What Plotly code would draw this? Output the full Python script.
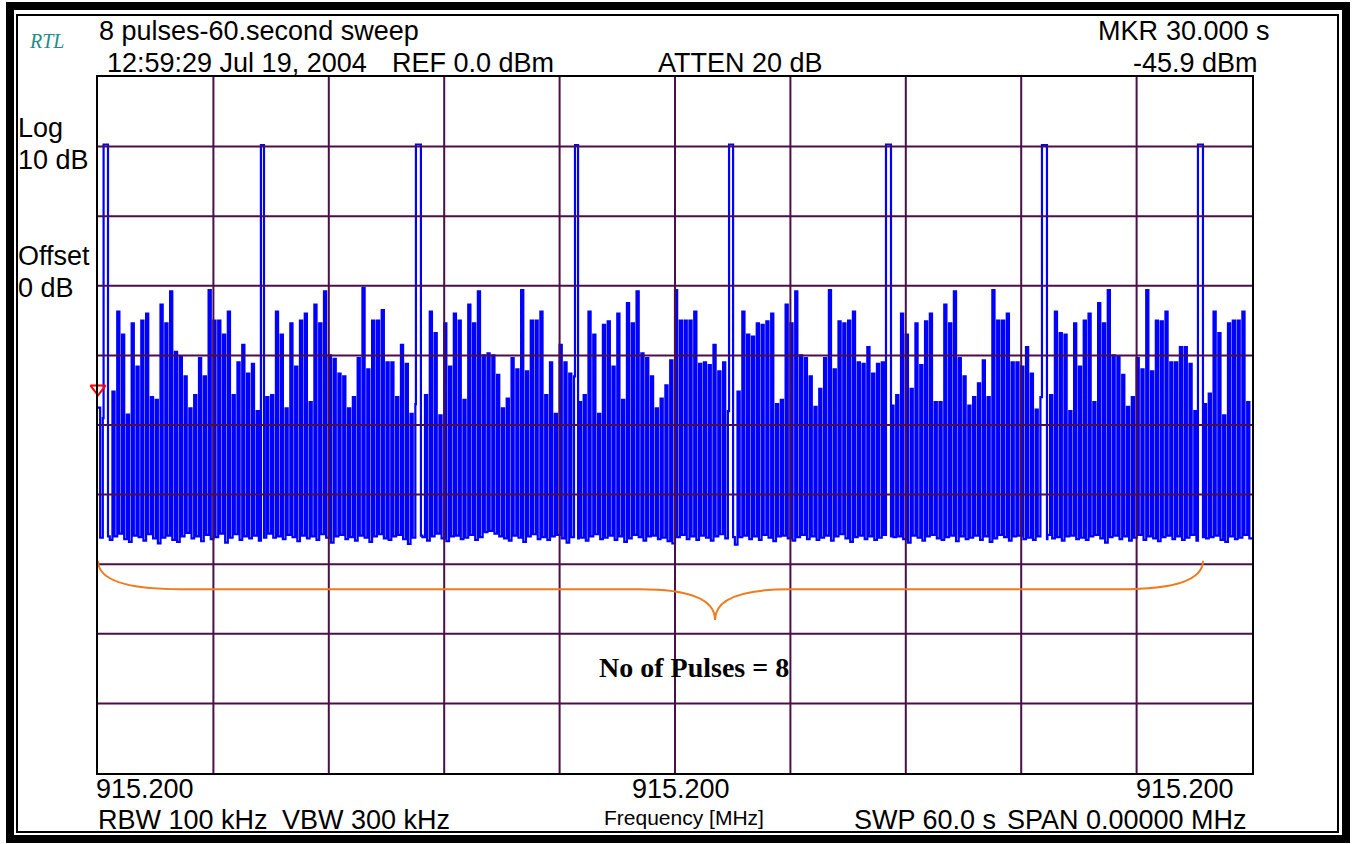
import plotly.graph_objects as go

# ---------------- data ----------------
sweep_s = 60.0
slot_s = 0.25  # one reading per 0.25 s of the 60 s zero-span sweep

top_dbm = [
    -47.5, -49.0, -46.5, -45.2, -33.7, -37.0, -48.5, -35.4, -41.6, -35.0,
    -34.0, -46.0, -46.4, -32.7, -35.4, -30.8, -39.5, -40.2, -43.0, -47.6,
    -45.7, -40.4, -43.0, -30.6, -35.0, -35.0, -37.0, -33.7, -45.7, -41.0,
    -38.5, -42.6, -41.2, -48.0, -46.7, -46.0, -45.7, -33.7, -37.0, -47.6,
    -35.4, -41.6, -35.0, -34.0, -46.7, -32.7, -35.4, -30.8, -40.0, -40.5,
    -42.6, -43.0, -47.6, -46.0, -40.4, -30.3, -42.0, -35.0, -35.0, -33.5,
    -41.0, -41.0, -46.0, -38.5, -41.2, -48.4, -47.0, -46.4, -45.7, -33.7,
    -36.8, -48.6, -35.4, -41.6, -34.0, -35.0, -46.4, -32.7, -35.4, -30.8,
    -40.0, -39.7, -40.0, -42.8, -47.6, -46.2, -40.4, -42.0, -30.6, -42.3,
    -35.0, -35.0, -33.7, -45.7, -41.0, -48.4, -38.5, -41.0, -42.6, -43.0,
    -46.7, -45.7, -33.7, -37.0, -48.4, -35.6, -35.1, -41.6, -34.0, -46.4,
    -32.5, -35.4, -30.8, -39.7, -40.4, -43.0, -47.6, -46.2, -44.3, -40.7,
    -30.6, -35.0, -35.0, -35.0, -33.7, -41.2, -41.0, -41.4, -38.5, -42.3,
    -41.0, -48.0, -47.0, -45.2, -33.7, -37.0, -37.3, -35.4, -35.6, -35.1,
    -34.0, -47.0, -46.4, -32.7, -35.4, -30.8, -40.0, -40.4, -43.0, -47.4,
    -44.8, -40.4, -30.6, -42.0, -35.1, -35.4, -35.0, -33.7, -41.0, -41.2,
    -38.8, -42.6, -41.2, -41.0, -47.0, -47.2, -45.7, -34.0, -37.0, -44.8,
    -35.4, -41.4, -35.1, -34.0, -46.7, -46.7, -32.7, -35.4, -30.8, -40.4,
    -43.0, -47.2, -46.0, -44.0, -40.7, -46.0, -30.6, -35.0, -35.0, -34.0,
    -41.0, -41.0, -41.6, -38.8, -42.6, -47.8, -46.0, -47.2, -45.7, -33.7,
    -36.8, -37.0, -48.0, -35.4, -41.6, -35.0, -34.0, -46.7, -32.5, -35.4,
    -30.6, -40.0, -40.2, -42.8, -47.4, -46.0, -40.4, -42.0, -30.6, -42.3,
    -35.0, -35.1, -33.7, -41.0, -41.0, -38.8, -38.8, -41.2, -48.0, -47.0,
    -47.0, -45.5, -33.7, -36.8, -48.6, -35.4, -35.0, -35.0, -33.7, -46.7,
]

floor_dbm = [
    -66.2, -65.8, -66.5, -66.0, -65.6, -66.4, -66.8, -65.9, -66.1, -66.6,
    -65.7, -66.3, -67.0, -66.2, -65.9, -66.5, -66.8, -66.0, -65.5, -66.3,
    -66.0, -66.7, -65.8, -66.4, -66.1, -65.6, -66.9, -66.2, -65.7, -66.5,
    -66.0, -66.3, -65.9, -66.6, -66.8, -65.6, -66.2, -66.0, -66.4, -65.8,
    -66.1, -66.7, -65.9, -66.3, -66.0, -66.5, -65.7, -66.2, -66.9, -66.0,
    -65.8, -66.4, -66.1, -66.6, -65.9, -66.2, -66.8, -66.0, -65.7, -66.3,
    -66.5, -66.0, -65.8, -66.4, -67.1, -66.2, -65.9, -66.1, -66.6, -66.0,
    -65.6, -66.3, -66.7, -66.0, -65.9, -66.4, -66.2, -65.8, -66.5, -66.1,
    -65.4, -65.2, -65.6, -66.0, -66.3, -66.6, -65.9, -66.2, -66.8, -66.0,
    -65.7, -66.4, -66.1, -66.5, -66.0, -65.8, -66.3, -66.9, -66.1, -65.9,
    -66.2, -66.6, -66.0, -65.7, -66.4, -66.2, -65.9, -66.5, -66.0, -66.8,
    -66.3, -65.8, -66.1, -66.6, -66.0, -65.9, -66.4, -66.2, -66.7, -67.0,
    -66.1, -65.8, -66.4, -66.0, -66.5, -65.9, -66.2, -66.6, -66.0, -65.7,
    -66.3, -66.8, -67.2, -66.1, -65.9, -66.4, -66.0, -66.5, -65.8, -66.2,
    -66.7, -66.0, -65.9, -66.3, -66.6, -66.1, -65.8, -66.4, -66.0, -66.5,
    -66.2, -65.9, -66.6, -66.0, -65.7, -66.3, -66.8, -66.1, -65.9, -66.4,
    -66.0, -66.5, -66.2, -65.8, -66.6, -66.1, -66.0, -66.4, -66.9, -65.9,
    -66.2, -66.6, -66.0, -65.8, -66.3, -66.5, -66.1, -65.9, -66.7, -66.0,
    -66.4, -66.2, -65.9, -66.5, -66.0, -66.8, -66.3, -65.8, -66.1, -66.6,
    -66.0, -65.9, -66.4, -66.2, -66.5, -66.0, -66.7, -65.8, -66.3, -66.1,
    -66.6, -66.0, -65.9, -66.4, -66.2, -66.5, -66.0, -65.8, -66.3, -66.9,
    -66.1, -65.9, -66.4, -66.0, -66.6, -66.2, -65.8, -66.5, -66.0, -66.3,
    -66.7, -66.1, -65.9, -66.4, -66.0, -66.5, -66.2, -65.8, -66.6, -66.0,
    -66.3, -66.1, -65.9, -66.5, -66.8, -66.0, -66.4, -66.2, -65.8, -66.3,
]

pulse_start_s = [0.29, 8.47, 16.53, 24.80, 32.81, 40.97, 49.08, 57.19]
pulse_width_s = [0.23, 0.16, 0.26, 0.16, 0.21, 0.26, 0.26, 0.26]
pulse_peak_dbm = [-9.7, -9.8, -9.7, -9.8, -9.7, -9.7, -9.8, -9.7]
pulse_floor_dbm = [-66.0, -66.2, -65.9, -66.3, -66.1, -66.0, -66.4, -66.1]

x_grid_s = [0, 6, 12, 18, 24, 30, 36, 42, 48, 54, 60]
y_grid_dbm = [-100, -90, -80, -70, -60, -50, -40, -30, -20, -10, 0]

marker_time_s = 0.0
marker_level_dbm = -44.8

brace_left_s = 0.0
brace_tip_s = 32.08
brace_right_s = 57.45
brace_end_dbm = -69.5
brace_mid_dbm = -73.6
brace_tip_dbm = -78.0

# ---------------- build trace ----------------
pts = []
for i, (top, fl) in enumerate(zip(top_dbm, floor_dbm)):
    t0 = i * slot_s
    pts.append((t0, top))
    pts.append((t0 + 0.45 * slot_s, fl))


def in_pulse(t):
    for ps, pw in zip(pulse_start_s, pulse_width_s):
        if ps <= t < ps + pw:
            return True
    return False


pts = [p for p in pts if not in_pulse(p[0])]
for ps, pw, pk, pf in zip(pulse_start_s, pulse_width_s, pulse_peak_dbm, pulse_floor_dbm):
    pts.append((ps, pk))
    pts.append((ps + pw, pf))
pts.sort(key=lambda p: p[0])
pts.append((sweep_s, pts[-1][1]))
tx = [p[0] for p in pts]
ty = [p[1] for p in pts]

# ---------------- figure ----------------
W, H = 1356, 844
L, R, T, B = 98, 1252, 77, 773


def px(x):
    return (x - L) / (R - L)


def py(y):
    return (B - y) / (B - T)


fig = go.Figure()
fig.add_trace(go.Scatter(
    x=tx, y=ty, mode="lines",
    line=dict(color="#0000ff", width=2.2, shape="hv"),
    hoverinfo="skip", showlegend=False,
))
fig.add_trace(go.Scatter(
    x=[marker_time_s], y=[marker_level_dbm], mode="markers",
    marker=dict(symbol="triangle-down-open", size=13, color="#ff0000",
                line=dict(color="#ff0000", width=2)),
    cliponaxis=False, showlegend=False, hoverinfo="skip",
))

shapes = []
grid_col = "#4b0f48"
for gx in x_grid_s[1:-1]:
    shapes.append(dict(type="line", xref="x", yref="paper", x0=gx, x1=gx, y0=0, y1=1,
                       line=dict(color=grid_col, width=2), layer="above"))
for gy in y_grid_dbm[1:-1]:
    shapes.append(dict(type="line", xref="paper", yref="y", x0=0, x1=1, y0=gy, y1=gy,
                       line=dict(color=grid_col, width=2), layer="above"))

# brace
bl, bt, br = brace_left_s, brace_tip_s, brace_right_s
e, m, tp = brace_end_dbm, brace_mid_dbm, brace_tip_dbm
path = (f"M {bl},{e} Q {bl},{m} {bl+4.3},{m} L {bt-3.9},{m} Q {bt},{m} {bt},{tp} "
        f"Q {bt},{m} {bt+3.9},{m} L {br-4.3},{m} Q {br},{m} {br},{e}")
shapes.append(dict(type="path", xref="x", yref="y", path=path,
                   line=dict(color="#f07a1e", width=2), layer="above"))

# frame
shapes.append(dict(type="rect", xref="paper", yref="paper",
                   x0=px(10), x1=px(1346), y0=py(6), y1=py(839),
                   line=dict(color="black", width=8), layer="above"))
shapes.append(dict(type="rect", xref="paper", yref="paper",
                   x0=px(17), x1=px(1338), y0=py(15), y1=py(832),
                   line=dict(color="black", width=2), layer="above"))

SANS = "Liberation Sans, Arial, sans-serif"
ann = []


def text(t, x, y, anchor="left", size=27, family=SANS, color="black", **kw):
    ann.append(dict(text=t, xref="paper", yref="paper", x=px(x), y=py(y),
                    xanchor=anchor, yanchor="middle", showarrow=False,
                    font=dict(family=family, size=size, color=color), **kw))


text("<i>RTL</i>", 27, 41, size=20, family="Liberation Serif, Times New Roman, serif", color="#1f8b8b")
text("8 pulses-60.second sweep", 97, 31)
text("12:59:29 Jul 19, 2004", 105, 63)
text("REF 0.0 dBm", 390, 63)
text("ATTEN 20 dB", 656, 63)
text("MKR", 1096, 31)
text("30.000 s", 1272, 31, anchor="right")
text("-45.9 dBm", 1260, 63, anchor="right")
text("Log", 16, 128)
text("10 dB", 16, 160)
text("Offset", 16, 256)
text("0 dB", 16, 288)
text("915.200", 94, 789)
text("915.200", 732, 789, anchor="right")
text("915.200", 1236, 789, anchor="right")
text("RBW 100 kHz", 96, 820)
text("VBW 300 kHz", 280, 820)
text("Frequency [MHz]", 684, 817, anchor="center", size=21)
text("SWP 60.0 s", 852, 820)
text("SPAN 0.00000 MHz", 1249, 820, anchor="right")
ann.append(dict(text="<b>No of Pulses = 8</b>", xref="x", yref="y", x=31.0, y=-84.8,
                xanchor="center", yanchor="middle", showarrow=False,
                font=dict(family="Liberation Serif, Times New Roman, serif", size=28, color="black")))

fig.update_layout(
    width=W, height=H,
    margin=dict(l=L, r=W - R, t=T, b=H - B, pad=0),
    paper_bgcolor="white", plot_bgcolor="white",
    shapes=shapes, annotations=ann, showlegend=False,
    xaxis=dict(range=[0, sweep_s], showgrid=False, zeroline=False, showticklabels=False,
               ticks="", showline=True, mirror=True, linecolor="black", linewidth=2,
               fixedrange=True),
    yaxis=dict(range=[-100, 0], showgrid=False, zeroline=False, showticklabels=False,
               ticks="", showline=True, mirror=True, linecolor="black", linewidth=2,
               fixedrange=True),
)

fig.write_html("out.html", config={"displayModeBar": False},
               post_script="document.body.style.margin='0';document.body.style.overflow='hidden';")
